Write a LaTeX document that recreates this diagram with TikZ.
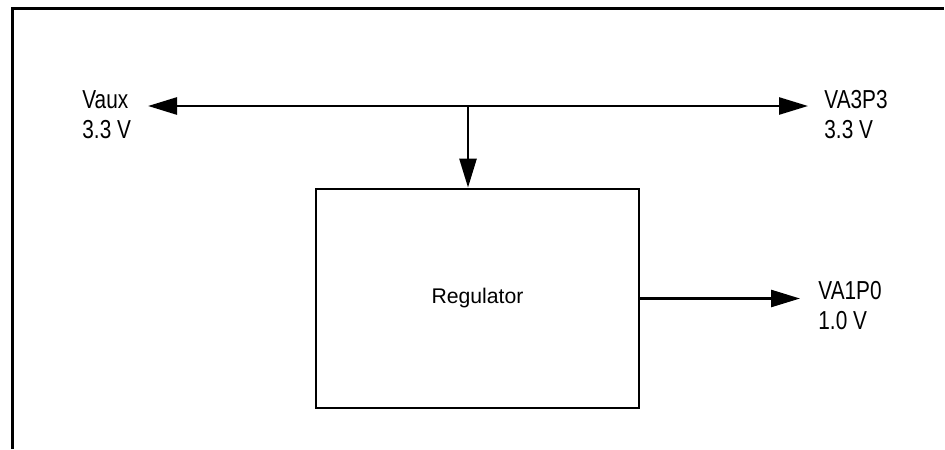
\documentclass[tikz,border=0pt]{standalone}
\usepackage{fontspec}
\setmainfont{Liberation Sans}
\newfontfamily\narrowfont{Liberation Sans}[FakeStretch=0.8]
\usetikzlibrary{arrows.meta}

\tikzset{
  rail/.style={draw, line width=1.3pt, -{Triangle[length=14.5pt,width=8.5pt]}},
  railtag/.style={anchor=west, align=left, inner sep=0pt,
    font=\narrowfont\fontsize{13}{15}\selectfont},
  regbox/.style={draw, line width=1.4pt, minimum width=161.5pt, minimum height=109.5pt,
    font=\fontsize{10.6}{12}\selectfont}
}

\begin{document}
\begin{tikzpicture}[x=0.5pt, y=-0.5pt]
   \useasboundingbox (0,0) rectangle (945,449);

   % frame
   \draw[line width=1.5pt] (12,449) -- (12,9) -- (944,9);

   \node[regbox] (reg) at (477.5,298.5) {Regulator};

   \node[railtag] (vaux) at (82,115) {Vaux\\3.3 V};
   \node[railtag] (va3p3) at (824,115) {VA3P3\\3.3 V};
   \node[railtag] (va1p0) at (818,306) {VA1P0\\1.0 V};

   \coordinate (tap) at (468,106);
   \coordinate (busL) at (148,106);
   \coordinate (busR) at (808,106);
   \coordinate (out) at (800,298.5);

   \draw[rail] (tap) -- (busL);
   \draw[rail] (tap) -- (busR);
   \draw[rail] (tap) -- (tap |- reg.north);
   \draw[rail] (reg.east) -- (out);

\end{tikzpicture}
\end{document}
